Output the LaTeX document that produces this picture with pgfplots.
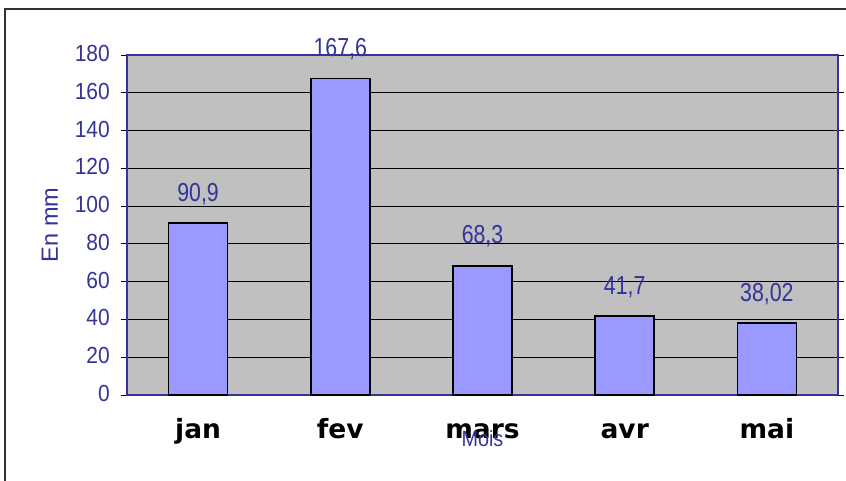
\documentclass[border=0pt]{standalone}
\usepackage{fontspec}
\setmainfont{Liberation Sans}
\newfontfamily\narrow[FakeStretch=0.9]{Liberation Sans}
\newfontfamily\narrowb[FakeStretch=0.82]{Liberation Sans}
\newfontfamily\dejab{DejaVu Sans}
\usepackage{pgfplots}
\pgfplotsset{compat=1.18}
\definecolor{tblue}{HTML}{333399}
\definecolor{barc}{HTML}{9999FF}
\definecolor{plotbg}{HTML}{C0C0C0}
\begin{document}
\begin{tikzpicture}
\useasboundingbox (0pt,0pt) rectangle (846pt,481pt);
\draw[line width=1.5pt, color=black!80] (5pt,-10pt) -- (5pt,472pt) -- (860pt,472pt);
\begin{axis}[
  at={(127pt,86pt)}, anchor=south west,
  width=711pt, height=340pt, scale only axis,
  xmin=-0.5, xmax=4.5, ymin=0, ymax=180,
  ytick={0,20,...,180},
  xtick={0,1,2,3,4}, xticklabels={jan,fev,mars,avr,mai},
  axis background/.style={fill=plotbg},
  axis line style={tblue, line width=1.6pt},
  ymajorgrids, grid style={black, line width=0.8pt},
  major x tick style={draw=none},
  major y tick style={black, line width=0.8pt},
  tick align=outside, major tick length=6pt,
  /pgf/number format/assume math mode=true,
  yticklabel style={font=\narrow\fontsize{23.3}{23.3}\selectfont, text=tblue, inner sep=0pt, anchor=east, xshift=-11pt, yshift=1.5pt},
  xticklabel style={font=\dejab\bfseries\fontsize{26.5}{26.5}\selectfont, text=black, inner sep=0pt, anchor=base, yshift=-38pt},
  xlabel={Mois},
  xlabel style={font=\narrow\fontsize{22}{22}\selectfont, text=tblue, at={(axis description cs:0.5,0)}, anchor=base, inner sep=0pt, yshift=-52pt},
  ylabel={En mm},
  every axis y label/.style={font=\fontsize{23.5}{23.5}\selectfont, text=tblue, at={(axis description cs:0,0.5)}, inner sep=0pt, xshift=-69pt, rotate=90, anchor=base},
  clip=false,
  ybar, bar width=59pt,
  nodes near coords,
  point meta=explicit symbolic,
  every node near coord/.style={font=\narrowb\fontsize{26}{26}\selectfont, text=tblue, inner sep=0pt, anchor=base, yshift=22pt},
]
\addplot[fill=barc, draw=black, line width=1.6pt] coordinates {
  (0,90.9) [90,9]
  (1,167.6) [167,6]
  (2,68.3) [68,3]
  (3,41.7) [41,7]
  (4,38.02) [38,02]
};
\end{axis}
\end{tikzpicture}
\end{document}
